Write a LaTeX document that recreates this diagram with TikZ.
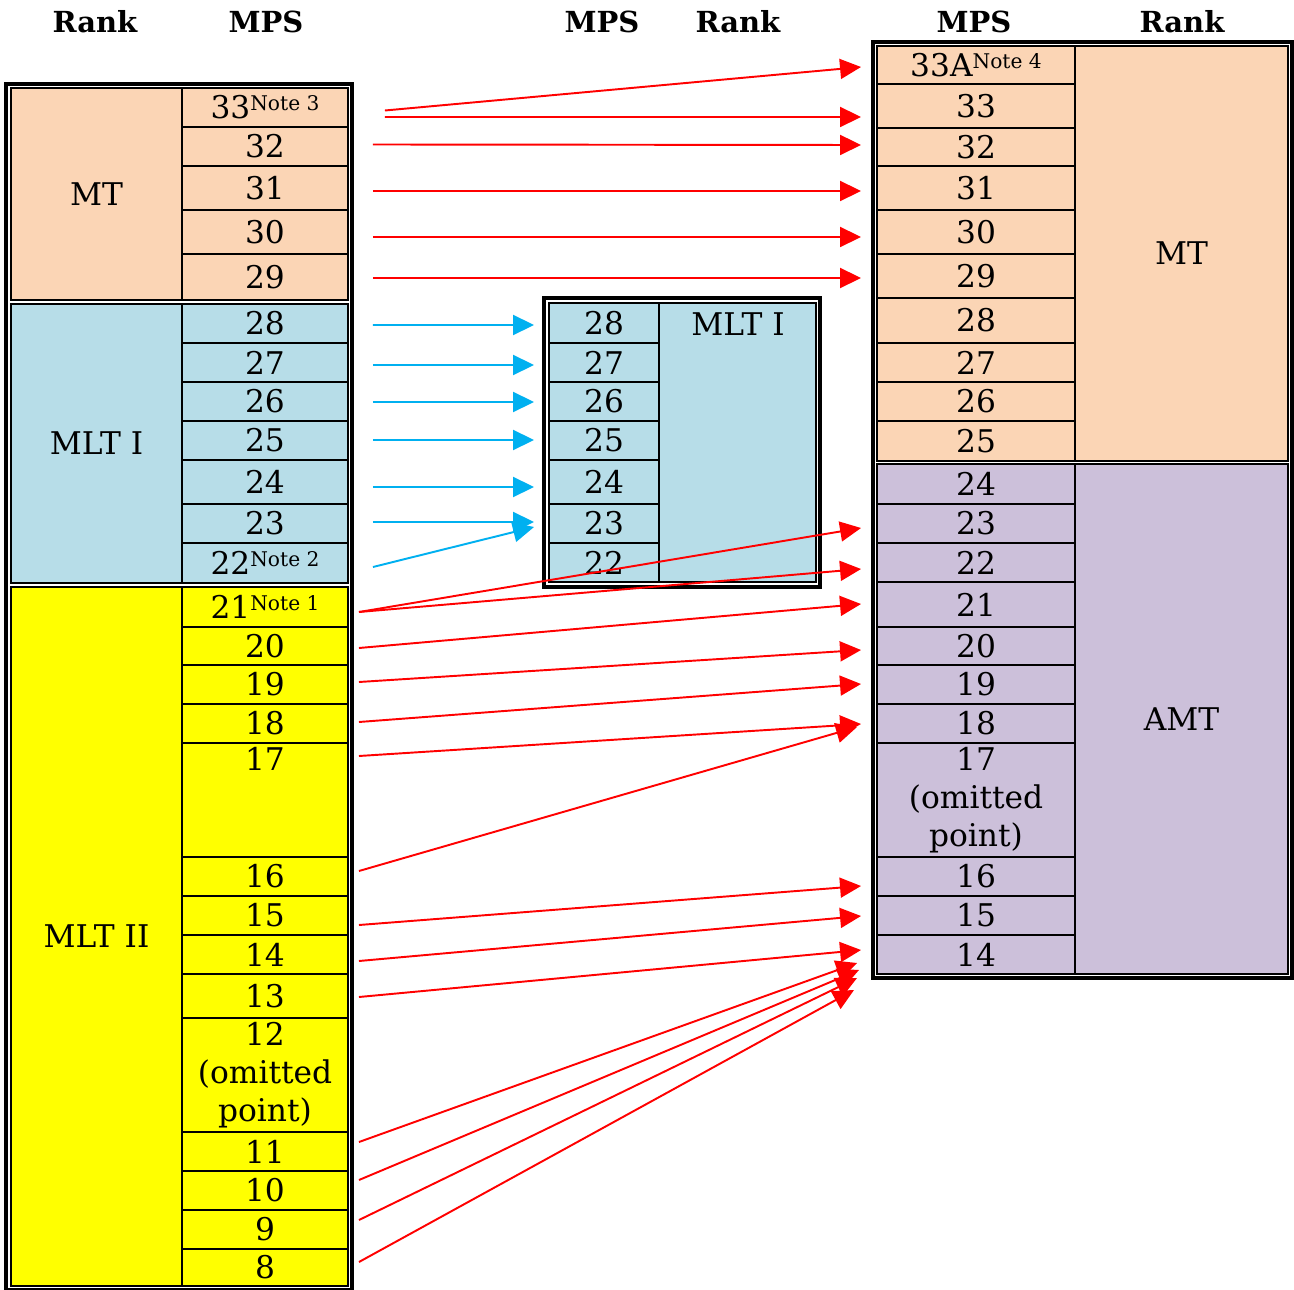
\documentclass[tikz,border=0pt]{standalone}
\usepackage{fontspec}
\setmainfont{DejaVu Serif}
\usetikzlibrary{arrows.meta,calc}
\definecolor{peach}{HTML}{FBD5B5}
\definecolor{lblue}{HTML}{B7DDE8}
\definecolor{lpurp}{HTML}{CCC0DA}
\definecolor{ylw}{HTML}{FFFF00}
\definecolor{arrblue}{HTML}{00B0F0}
\newcommand\mkcell[7]{\node[cellsty, fill=#6, minimum width={(#4-#2)*0.02cm}, minimum height={(#5-#3)*0.02cm}] (#1) at ({(#2+#4)/2},{(#3+#5)/2}) {#7};}
\newcommand\nt[2]{#1\raisebox{4.5pt}{\fontsize{11.5}{12}\selectfont Note #2}}
\tikzset{
  cellsty/.style={draw=black, line width=1.1pt, inner sep=0pt, align=center,
    font=\fontsize{17.8}{21.5}\selectfont},
  secsty/.style={draw=black, line width=1.5pt},
  outsty/.style={draw=black, line width=1.8pt},
  headsty/.style={font=\fontsize{16.5}{18}\selectfont\bfseries, inner sep=0pt},
  redarr/.style={draw=red, line width=1.1pt, -{Triangle[length=0.42cm,width=0.4cm]}},
  bluearr/.style={draw=arrblue, line width=1.1pt, -{Triangle[length=0.42cm,width=0.4cm]}},
}
\begin{document}
\begin{tikzpicture}[x=0.02cm,y=-0.02cm]
\useasboundingbox[fill=white] (0,0) rectangle (1294,1290);
% headers
\node[headsty] (h1) at (95,22) {Rank};
\node[headsty] (h2) at (266,22) {MPS};
\node[headsty] (h3) at (602,22) {MPS};
\node[headsty] (h4) at (738,22) {Rank};
\node[headsty] (h5) at (974,22) {MPS};
\node[headsty] (h6) at (1182,22) {Rank};
% ---------- left table ----------
\mkcell{LMT}{11}{88}{182}{300}{peach}{MT}
\mkcell{LMLTI}{11}{304}{182}{583}{lblue}{MLT I}
\mkcell{LMLTII}{11}{587}{182}{1286}{ylw}{MLT II}
\mkcell{L33}{182}{88}{348}{127}{peach}{\nt{33}{3}}
\mkcell{L32}{182}{127}{348}{166}{peach}{32}
\mkcell{L31}{182}{166}{348}{210}{peach}{31}
\mkcell{L30}{182}{210}{348}{254}{peach}{30}
\mkcell{L29}{182}{254}{348}{300}{peach}{29}
\mkcell{L28}{182}{304}{348}{343}{lblue}{28}
\mkcell{L27}{182}{343}{348}{382}{lblue}{27}
\mkcell{L26}{182}{382}{348}{421}{lblue}{26}
\mkcell{L25}{182}{421}{348}{460}{lblue}{25}
\mkcell{L24}{182}{460}{348}{504}{lblue}{24}
\mkcell{L23}{182}{504}{348}{543}{lblue}{23}
\mkcell{L22}{182}{543}{348}{583}{lblue}{\nt{22}{2}}
\mkcell{L21}{182}{587}{348}{627}{ylw}{\nt{21}{1}}
\mkcell{L20}{182}{627}{348}{665}{ylw}{20}
\mkcell{L19}{182}{665}{348}{704}{ylw}{19}
\mkcell{L18}{182}{704}{348}{743}{ylw}{18}
\mkcell{L17}{182}{743}{348}{857}{ylw}{17\\\phantom{(omitted}\\\phantom{point)}}
\mkcell{L16}{182}{857}{348}{896}{ylw}{16}
\mkcell{L15}{182}{896}{348}{935}{ylw}{15}
\mkcell{L14}{182}{935}{348}{974}{ylw}{14}
\mkcell{L13}{182}{974}{348}{1018}{ylw}{13}
\mkcell{L12}{182}{1018}{348}{1132}{ylw}{12\\(omitted\\point)}
\mkcell{L11}{182}{1132}{348}{1171}{ylw}{11}
\mkcell{L10}{182}{1171}{348}{1210}{ylw}{10}
\mkcell{L9}{182}{1210}{348}{1249}{ylw}{9}
\mkcell{L8}{182}{1249}{348}{1286}{ylw}{8}
\draw[secsty] (11,88) rectangle (348,300);
\draw[secsty] (11,304) rectangle (348,583);
\draw[secsty] (11,587) rectangle (348,1286);
\draw[outsty] (6,84) rectangle (352,1290);
% ---------- middle table ----------
\mkcell{MR}{659}{303}{816}{582}{lblue}{}
\node[cellsty, draw=none, fill=none] (MRt) at (738,324) {MLT I};
\mkcell{M28}{549}{303}{659}{343}{lblue}{28}
\mkcell{M27}{549}{343}{659}{382}{lblue}{27}
\mkcell{M26}{549}{382}{659}{421}{lblue}{26}
\mkcell{M25}{549}{421}{659}{460}{lblue}{25}
\mkcell{M24}{549}{460}{659}{504}{lblue}{24}
\mkcell{M23}{549}{504}{659}{543}{lblue}{23}
\mkcell{M22}{549}{543}{659}{582}{lblue}{22}
\draw[secsty] (549,303) rectangle (816,582);
\draw[outsty] (544,298) rectangle (820,587);
% ---------- right table ----------
\mkcell{RMT}{1075}{46}{1288}{461}{peach}{MT}
\mkcell{RAMT}{1075}{464}{1288}{974}{lpurp}{AMT}
\mkcell{R33A}{877}{46}{1075}{84}{peach}{\nt{33A}{4}}
\mkcell{R33}{877}{84}{1075}{128}{peach}{33}
\mkcell{R32}{877}{128}{1075}{166}{peach}{32}
\mkcell{R31}{877}{166}{1075}{210}{peach}{31}
\mkcell{R30}{877}{210}{1075}{254}{peach}{30}
\mkcell{R29}{877}{254}{1075}{298}{peach}{29}
\mkcell{R28}{877}{298}{1075}{343}{peach}{28}
\mkcell{R27}{877}{343}{1075}{382}{peach}{27}
\mkcell{R26}{877}{382}{1075}{421}{peach}{26}
\mkcell{R25}{877}{421}{1075}{461}{peach}{25}
\mkcell{R24}{877}{464}{1075}{504}{lpurp}{24}
\mkcell{R23}{877}{504}{1075}{543}{lpurp}{23}
\mkcell{R22}{877}{543}{1075}{582}{lpurp}{22}
\mkcell{R21}{877}{582}{1075}{627}{lpurp}{21}
\mkcell{R20}{877}{627}{1075}{665}{lpurp}{20}
\mkcell{R19}{877}{665}{1075}{704}{lpurp}{19}
\mkcell{R18}{877}{704}{1075}{743}{lpurp}{18}
\mkcell{R17}{877}{743}{1075}{857}{lpurp}{17\\(omitted\\point)}
\mkcell{R16}{877}{857}{1075}{896}{lpurp}{16}
\mkcell{R15}{877}{896}{1075}{935}{lpurp}{15}
\mkcell{R14}{877}{935}{1075}{974}{lpurp}{14}
\draw[secsty] (877,46) rectangle (1288,461);
\draw[secsty] (877,464) rectangle (1288,974);
\draw[outsty] (873,42) rectangle (1292,978);
% ---------- arrows: MT ----------
\draw[redarr] ($(L33.east)+(36,3)$) -- ($(R33A.west)+(-15,2)$);
\draw[redarr] ($(L33.east)+(36,9.5)$) -- ($(R33.west)+(-15,11)$);
\draw[redarr] ($(L32.east)+(24,-2)$) -- ($(R32.west)+(-15,-2)$);
\draw[redarr] ($(L31.east)+(24,3)$) -- ($(R31.west)+(-15,3)$);
\draw[redarr] ($(L30.east)+(24,5)$) -- ($(R30.west)+(-15,5)$);
\draw[redarr] ($(L29.east)+(24,1)$) -- ($(R29.west)+(-15,2)$);
% ---------- arrows: MLT I ----------
\draw[bluearr] ($(L28.east)+(24,1.5)$) -- ($(M28.west)+(-14,2)$);
\draw[bluearr] ($(L27.east)+(24,2.5)$) -- ($(M27.west)+(-14,2.5)$);
\draw[bluearr] ($(L26.east)+(24,0.5)$) -- ($(M26.west)+(-14,0.5)$);
\draw[bluearr] ($(L25.east)+(24,-0.5)$) -- ($(M25.west)+(-14,-0.5)$);
\draw[bluearr] ($(L24.east)+(24,5)$) -- ($(M24.west)+(-14,5)$);
\draw[bluearr] ($(L23.east)+(24,-1.5)$) -- ($(M23.west)+(-14,-1.5)$);
\draw[bluearr] ($(L22.east)+(24,4)$) -- ($(M23.west)+(-14,3.5)$);
% ---------- arrows: MLT II ----------
\draw[redarr] ($(L21.east)+(10,5)$) -- ($(R23.west)+(-15,4.5)$);
\draw[redarr] ($(L21.east)+(10,5)$) -- ($(R22.west)+(-15,6.5)$);
\draw[redarr] ($(L20.east)+(10,2)$) -- ($(R21.west)+(-15,-0.5)$);
\draw[redarr] ($(L19.east)+(10,-2.5)$) -- ($(R20.west)+(-15,4)$);
\draw[redarr] ($(L18.east)+(10,-1.5)$) -- ($(R19.west)+(-15,-0.5)$);
\draw[redarr] ($(L17.east)+(10,-44)$) -- ($(R18.west)+(-15,0.5)$);
\draw[redarr] ($(L16.east)+(10,-5.5)$) -- ($(R18.west)+(-19,3.5)$);
\draw[redarr] ($(L15.east)+(10,9.5)$) -- ($(R16.west)+(-15,9.5)$);
\draw[redarr] ($(L14.east)+(10,6.5)$) -- ($(R15.west)+(-15,0.5)$);
\draw[redarr] ($(L13.east)+(10,1)$) -- ($(R14.west)+(-15,-4.5)$);
\draw[redarr] ($(L11.east)+(10,-9.5)$) -- ($(R14.west)+(-19,8.5)$);
\draw[redarr] ($(L10.east)+(10,-10.5)$) -- ($(R14.west)+(-17,15.5)$);
\draw[redarr] ($(L9.east)+(10,-9.5)$) -- ($(R14.west)+(-19,23.5)$);
\draw[redarr] ($(L8.east)+(10,-5.5)$) -- ($(R14.west)+(-22,35.5)$);
\end{tikzpicture}
\end{document}
